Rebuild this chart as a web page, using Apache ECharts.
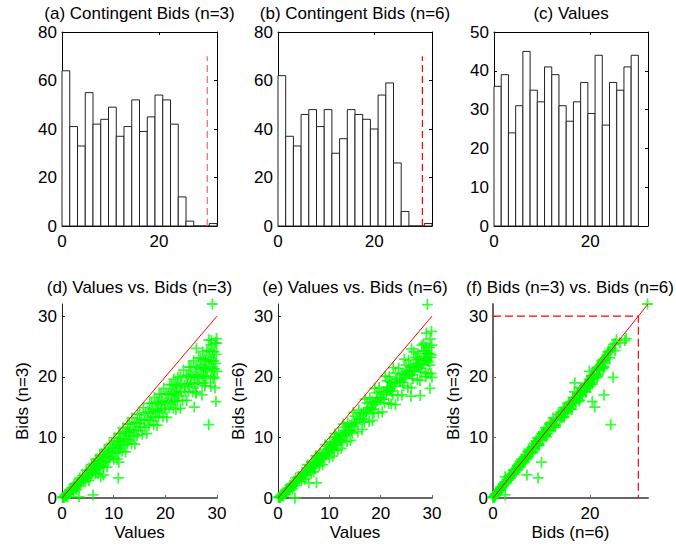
<!DOCTYPE html>
<html>
<head>
<meta charset="utf-8">
<script src="https://cdn.jsdelivr.net/npm/echarts@6/dist/echarts.min.js"></script>
<style>
html, body { margin: 0; background: #fff; }
#chart { width: 676px; height: 547px; }
</style>
</head>
<body>
<div id="chart"></div>
<script>
// histogram counts (20 bins each)
var bidCounts3 = [64, 41, 33, 55, 42, 44, 49, 37, 41, 52, 39, 45, 54, 52, 42, 12, 2, 0, 0, 1];
var bidCounts6 = [62, 37, 33, 46, 48, 41, 48, 30, 36, 48, 46, 44, 40, 54, 59, 26, 6, 0, 0, 1];
var valueCounts = [36, 39, 24, 31, 45, 35, 32, 41, 39, 31, 27, 32, 37, 29, 44, 26, 37, 35, 41, 44];
var bidRange = [0, 32];     // span of the bid bins
var valueRange = [0, 30];   // span of the value bins
var cutoff = 30;            // dashed marker position
var cutoffTop = 70;

// individual observations: value, bid with 3 bidders, bid with 6 bidders
var values = [
  0.1, 0.2, 0.3, 0.45, 0.55, 0.7, 0.8, 0.9, 1.05, 1.2, 1.3, 1.45,
  1.55, 1.65, 1.8, 1.9, 2.0, 2.15, 2.25, 2.35, 2.5, 2.6, 2.7, 2.85, 2.95,
  3.1, 3.3, 3.45, 3.65, 3.8, 4.0, 4.2, 4.4,
  4.55, 4.7, 4.8, 4.95, 5.1, 5.2, 5.35, 5.5, 5.6, 5.75, 5.9,
  6.05, 6.15, 6.25, 6.35, 6.45, 6.55, 6.65, 6.75, 6.85, 6.95, 7.05, 7.15, 7.25, 7.35, 7.45,
  7.55, 7.7, 7.8, 7.95, 8.05, 8.2, 8.3, 8.45, 8.55, 8.7, 8.8, 8.95,
  9.05, 9.2, 9.3, 9.45, 9.6, 9.7, 9.85, 10.0, 10.1, 10.25, 10.4,
  10.55, 10.65, 10.75, 10.85, 10.95, 11.05, 11.15, 11.25, 11.35, 11.45, 11.55, 11.65, 11.8, 11.9,
  12.05, 12.15, 12.3, 12.4, 12.5, 12.6, 12.7, 12.85, 12.95, 13.05, 13.2, 13.3, 13.45,
  13.55, 13.7, 13.85, 14.0, 14.1, 14.25, 14.4, 14.5, 14.65, 14.8, 14.95,
  15.05, 15.25, 15.4, 15.55, 15.75, 15.9, 16.05, 16.2, 16.4,
  16.55, 16.7, 16.8, 16.95, 17.1, 17.2, 17.35, 17.5, 17.6, 17.75, 17.9,
  18.05, 18.15, 18.3, 18.4, 18.5, 18.6, 18.7, 18.85, 18.95, 19.05, 19.2, 19.3, 19.45,
  19.55, 19.7, 19.85, 20.0, 20.15, 20.3, 20.45, 20.6, 20.75, 20.9,
  21.05, 21.15, 21.25, 21.35, 21.45, 21.55, 21.65, 21.75, 21.85, 21.95, 22.05, 22.15, 22.25, 22.35, 22.45,
  22.6, 22.75, 22.9, 23.05, 23.2, 23.35, 23.5, 23.7, 23.85,
  24.05, 24.15, 24.3, 24.4, 24.5, 24.6, 24.7, 24.85, 24.95, 25.05, 25.2, 25.3, 25.45,
  25.55, 25.7, 25.8, 25.95, 26.1, 26.2, 26.3, 26.45, 26.55, 26.7, 26.8, 26.95,
  27.05, 27.15, 27.25, 27.35, 27.45, 27.55, 27.65, 27.75, 27.85, 27.95, 28.05, 28.15, 28.3, 28.45,
  28.55, 28.65, 28.75, 28.85, 28.95, 29.05, 29.15, 29.25, 29.35, 29.45, 29.55, 29.65, 29.75, 29.85, 29.95,
  29.1, 28.4, 10.9, 27.1, 29.8, 25.6, 22.9, 29.5, 8.0, 11.0, 3.3, 6.0, 29.6, 27.7, 25.9, 28.8, 28.4, 26.0, 30.0, 7.5, 29.9, 28.9
];
var bids3 = [
  0.1, 0.1, 0.2, 0.1, 0.5, 0.4, 0.3, 0.7, 0.2, 0.7, 1.0, 0.7,
  1.4, 1.0, 1.3, 1.7, 1.3, 1.7, 1.1, 2.3, 1.8, 1.6, 2.3, 1.4, 2.1,
  2.6, 2.0, 3.3, 2.5, 3.0, 3.7, 3.0, 3.6,
  2.7, 4.6, 3.7, 3.3, 4.5, 2.9, 4.0, 4.7, 3.7, 5.5, 4.2,
  4.9, 5.7, 4.6, 5.3, 4.0, 6.4, 5.2, 4.7, 6.0, 4.0, 5.4, 6.1, 4.9, 7.0, 5.4,
  6.1, 7.2, 5.8, 6.7, 5.1, 8.0, 6.6, 5.9, 7.6, 5.1, 6.8, 7.7,
  6.2, 8.8, 6.8, 7.7, 9.0, 7.3, 8.3, 6.4, 9.9, 8.2, 7.4,
  9.4, 6.4, 8.4, 9.4, 7.6, 10.6, 8.2, 9.3, 10.6, 8.7, 9.8, 7.7, 11.6, 9.6,
  8.7, 10.9, 7.6, 9.8, 10.9, 8.9, 12.2, 9.6, 10.8, 12.2, 10.2, 11.3, 9.0,
  13.2, 11.1, 10.1, 12.4, 8.9, 11.2, 12.5, 10.3, 13.8, 11.1, 12.3,
  13.8, 11.7, 12.9, 10.5, 14.9, 12.8, 11.7, 14.1, 10.6,
  13.0, 14.2, 12.0, 15.6, 12.8, 14.0, 15.6, 13.4, 14.6, 12.1, 16.6,
  14.4, 13.3, 15.8, 12.0, 14.4, 15.7, 13.4, 17.1, 14.2, 15.4, 17.1, 14.7, 16.0,
  13.4, 18.1, 15.7, 14.6, 17.2, 13.3, 15.9, 17.2, 14.9, 18.7,
  15.7, 17.0, 18.7, 16.2, 17.6, 14.8, 19.6, 17.2, 16.0, 18.6, 14.6, 17.2, 18.5, 16.0, 19.9,
  16.9, 18.2, 20.0, 17.5, 18.9, 16.1, 21.1, 18.6, 17.5,
  20.2, 16.1, 18.8, 20.2, 17.6, 21.6, 18.4, 19.9, 21.6, 19.0, 20.4, 17.5, 22.6,
  20.1, 18.8, 21.6, 17.3, 20.1, 21.5, 18.9, 23.1, 19.8, 21.3, 23.0, 20.4,
  21.9, 18.9, 24.1, 21.4, 20.1, 22.9, 18.5, 21.4, 22.8, 20.1, 24.3, 21.0, 22.5, 24.3,
  21.6, 23.1, 20.0, 25.3, 22.6, 21.3, 24.2, 19.7, 22.6, 24.1, 21.3, 25.6, 22.2, 23.7, 25.5,
  32.0, 12.1, 3.3, 17.0, 15.9, 15.0, 14.8, 19.9, 3.8, 5.9, 0.2, 0.5, 18.2, 19.0, 17.5, 18.4, 26.1, 24.7, 20.9, 3.5, 26.3, 26.0
];
var bids6 = [
  0.1, 0.1, 0.2, 0.1, 0.4, 0.4, 0.4, 0.6, 0.3, 0.7, 0.9, 0.7,
  1.4, 1.1, 1.3, 1.6, 1.4, 1.6, 1.2, 2.1, 1.8, 1.8, 2.2, 1.5, 2.0,
  2.4, 2.1, 3.3, 2.7, 2.9, 3.5, 3.2, 3.5,
  2.8, 4.2, 3.7, 3.7, 4.2, 3.1, 3.9, 4.4, 3.8, 5.5, 4.5,
  4.7, 5.4, 4.9, 5.1, 4.1, 5.9, 5.2, 5.2, 5.7, 4.3, 5.2, 5.8, 5.0, 7.0, 5.7,
  6.0, 6.8, 6.2, 6.5, 5.3, 7.4, 6.6, 6.5, 7.2, 5.5, 6.6, 7.3,
  6.4, 8.8, 7.2, 7.5, 8.5, 7.7, 8.1, 6.6, 9.2, 8.2, 8.1,
  8.9, 6.9, 8.1, 9.0, 7.8, 10.6, 8.7, 9.0, 10.1, 9.2, 9.6, 7.9, 10.8, 9.6,
  9.5, 10.4, 8.2, 9.5, 10.4, 9.2, 12.2, 10.2, 10.5, 11.7, 10.7, 11.1, 9.3,
  12.4, 11.2, 11.0, 12.0, 9.5, 11.1, 12.1, 10.7, 14.1, 11.8, 12.3,
  13.5, 12.5, 13.0, 10.9, 14.5, 13.1, 12.9, 14.0, 11.3,
  13.0, 14.1, 12.5, 16.3, 13.8, 14.2, 15.7, 14.5, 14.9, 12.6, 16.5,
  14.9, 14.7, 15.9, 12.8, 14.6, 15.8, 14.1, 18.1, 15.4, 15.8, 17.4, 16.0, 16.5,
  14.0, 18.2, 16.5, 16.3, 17.5, 14.2, 16.3, 17.5, 15.7, 20.1,
  17.1, 17.6, 19.3, 17.8, 18.3, 15.6, 20.0, 18.1, 17.8, 19.1, 15.5, 17.6, 18.9, 17.0, 21.5,
  18.4, 18.9, 20.6, 19.1, 19.6, 16.9, 21.4, 19.5, 19.2,
  20.5, 17.0, 19.1, 20.4, 18.5, 22.9, 19.8, 20.3, 21.9, 20.4, 20.9, 18.2, 22.7,
  20.7, 20.5, 21.7, 18.2, 20.3, 21.6, 19.7, 24.1, 21.0, 21.5, 23.2, 21.7,
  22.1, 19.5, 23.8, 22.0, 21.6, 22.9, 19.4, 21.4, 22.7, 20.8, 25.2, 22.1, 22.6, 24.2,
  22.8, 23.2, 20.6, 24.9, 23.0, 22.7, 23.9, 20.5, 22.5, 23.8, 21.9, 26.2, 23.2, 23.6, 25.2,
  31.9, 24.3, 9.3, 22.9, 20.5, 21.0, 15.4, 24.8, 7.0, 10.0, 0.0, 2.5, 18.1, 16.9, 16.8, 20.0, 25.5, 24.6, 19.9, 2.5, 27.5, 27.2
];

var font = 'Helvetica, Arial, "Liberation Sans", sans-serif';
var fs = 17;
// plus-shaped marker, like the '+' of the original plot
var plus = 'path://M4.2,0H5.8V4.2H10V5.8H5.8V10H4.2V5.8H0V4.2H4.2Z';

var grids = [
  {left: 62, top: 32, width: 155, height: 194},
  {left: 278, top: 32, width: 154, height: 194},
  {left: 494, top: 32, width: 154, height: 194},
  {left: 62, top: 304, width: 155, height: 194},
  {left: 278, top: 304, width: 154, height: 194},
  {left: 493, top: 304, width: 155, height: 194}
];

function axis(gi, pos, max, ticks, o) {
  o = o || {};
  var c = o.color || '#000';
  return {
    type: 'value', gridIndex: gi, position: pos, min: 0, max: max,
    axisLine: {show: true, onZero: false, lineStyle: {color: c, width: o.lw || 1}},
    axisTick: {show: true, inside: true, length: 3, customValues: ticks, lineStyle: {color: c}},
    axisLabel: {show: !!o.labels, customValues: ticks, color: '#000', fontSize: fs,
                fontFamily: font, margin: o.margin || 5},
    splitLine: {show: false},
    name: o.name || '', nameLocation: 'middle', nameGap: o.gap || 0,
    nameTextStyle: {color: '#000', fontSize: fs, fontFamily: font}
  };
}

function histSeries(counts, range, idx) {
  var w = (range[1] - range[0]) / counts.length;
  return {
    type: 'custom', xAxisIndex: idx, yAxisIndex: idx,
    data: counts.map(function (c, i) { return [range[0] + i * w, range[0] + (i + 1) * w, c]; }),
    encode: {x: [0, 1], y: 2},
    renderItem: function (params, api) {
      var p0 = api.coord([api.value(0), 0]);
      var p1 = api.coord([api.value(1), api.value(2)]);
      return {
        type: 'rect',
        shape: {x: p0[0], y: p1[1], width: p1[0] - p0[0], height: p0[1] - p1[1]},
        style: {fill: '#fff', stroke: '#222', lineWidth: 1}
      };
    }
  };
}

function lineSeries(idx, data, color, dash, width) {
  return {
    type: 'line', xAxisIndex: idx, yAxisIndex: idx, data: data, symbol: 'none', silent: true, z: 5,
    lineStyle: {color: color, width: width || 1, type: dash || 'solid'}
  };
}

function scatterSeries(idx, xs, ys) {
  return {
    type: 'scatter', xAxisIndex: idx, yAxisIndex: idx, symbol: plus, symbolSize: 11,
    itemStyle: {color: '#00ff00'}, silent: true,
    data: xs.map(function (x, i) { return [x, ys[i]]; })
  };
}

var xAxes = [
  axis(0, 'bottom', 32, [0, 20], {labels: true, margin: 7}), axis(0, 'top', 32, [0, 20]),
  axis(1, 'bottom', 32, [0, 20], {labels: true, margin: 7}), axis(1, 'top', 32, [0, 20]),
  axis(2, 'bottom', 32, [0, 20], {labels: true, margin: 7}), axis(2, 'top', 32, [0, 20]),
  axis(3, 'bottom', 30, [0, 10, 20, 30], {labels: true, margin: 7, color: '#666', lw: 2, name: 'Values', gap: 26}),
  axis(4, 'bottom', 30, [0, 10, 20, 30], {labels: true, margin: 7, color: '#666', lw: 2, name: 'Values', gap: 26}),
  axis(5, 'bottom', 32, [0, 20], {labels: true, margin: 7, color: '#666', lw: 2, name: 'Bids (n=6)', gap: 26})
];
var yAxes = [
  axis(0, 'left', 80, [0, 20, 40, 60, 80], {labels: true}), axis(0, 'right', 80, [0, 20, 40, 60, 80]),
  axis(1, 'left', 80, [0, 20, 40, 60, 80], {labels: true}), axis(1, 'right', 80, [0, 20, 40, 60, 80]),
  axis(2, 'left', 50, [0, 10, 20, 30, 40, 50], {labels: true}), axis(2, 'right', 50, [0, 10, 20, 30, 40, 50]),
  axis(3, 'left', 32, [0, 10, 20, 30], {labels: true, color: '#222', name: 'Bids (n=3)', gap: 31}),
  axis(4, 'left', 32, [0, 10, 20, 30], {labels: true, color: '#222', name: 'Bids (n=6)', gap: 31}),
  axis(5, 'left', 32, [0, 10, 20, 30], {labels: true, color: '#666', lw: 2, name: 'Bids (n=3)', gap: 31})
];

var titles = [
  ['(a) Contingent Bids (n=3)', 139.5, 13], ['(b) Contingent Bids (n=6)', 355, 13], ['(c) Values', 571, 13],
  ['(d) Values vs. Bids (n=3)', 139.5, 287], ['(e) Values vs. Bids (n=6)', 355, 287], ['(f) Bids (n=3) vs. Bids (n=6)', 570, 287]
];

var option = {
  animation: false,
  backgroundColor: '#fff',
  grid: grids,
  xAxis: xAxes,
  yAxis: yAxes,
  graphic: titles.map(function (t) {
    return {type: 'text', x: t[1], y: t[2], silent: true,
            style: {text: t[0], fill: '#000', font: fs + 'px ' + font, align: 'center', verticalAlign: 'middle'}};
  }),
  series: [
    histSeries(bidCounts3, bidRange, 0),
    histSeries(bidCounts6, bidRange, 2),
    histSeries(valueCounts, valueRange, 4),
    lineSeries(0, [[cutoff, 0], [cutoff, cutoffTop]], '#ff6666', [7, 4], 1.2),
    lineSeries(2, [[cutoff, 0], [cutoff, cutoffTop]], '#ff0000', [7, 4], 1.2),
    scatterSeries(6, values, bids3),
    scatterSeries(7, values, bids6),
    scatterSeries(8, bids6, bids3),
    lineSeries(6, [[valueRange[0], valueRange[0]], [valueRange[1], valueRange[1]]], '#ff0000'),
    lineSeries(7, [[valueRange[0], valueRange[0]], [valueRange[1], valueRange[1]]], '#ff0000'),
    lineSeries(8, [[bidRange[0], bidRange[0]], [bidRange[1], bidRange[1]]], '#ff0000'),
    lineSeries(8, [[0, cutoff], [cutoff, cutoff], [cutoff, 0]], '#ff0000', [8, 4], 1.2)
  ]
};

var myChart = echarts.init(document.getElementById('chart'), null, {renderer: 'svg'});
myChart.setOption(option, true);
</script>
</body>
</html>
